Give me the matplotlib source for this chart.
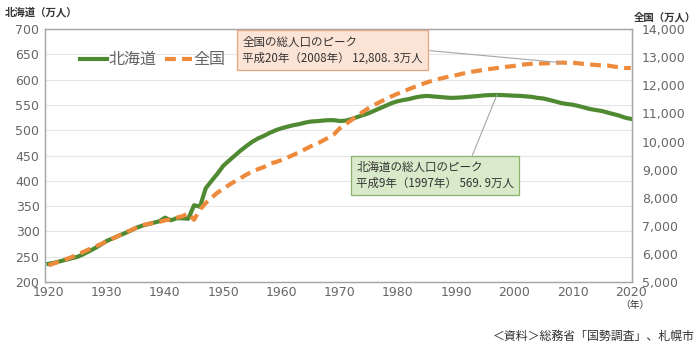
import matplotlib
matplotlib.use("Agg")
import matplotlib.pyplot as plt
from matplotlib.ticker import FuncFormatter

plt.rcParams['font.family'] = ['Noto Sans CJK JP', 'DejaVu Sans']

## DATA (万人)
years = list(range(1920, 2021))

hokkaido = [
    235.9, 238, 241, 244, 247, 249.9, 255, 261, 267, 274,          # 1920-29
    281.2, 286, 291, 296, 301, 306.8, 311, 314, 317, 320,          # 1930-39
    327.2, 322, 326, 326, 325, 351.8, 348.8, 385.3, 400, 414,      # 1940-49
    429.6, 440, 450, 460, 469, 477.3, 484, 489, 495, 500,          # 1950-59
    503.9, 507, 510, 512, 515, 517.2, 518, 519, 520, 520,          # 1960-69
    518.4, 519, 522, 526, 530, 533.8, 539, 544, 549, 554,          # 1970-79
    557.6, 560, 562, 565, 567, 567.9, 567, 566, 565, 564,          # 1980-89
    564.4, 565, 566, 567, 568, 569.2, 569.6, 569.9, 569.6, 569,    # 1990-99
    568.3, 568, 567, 566, 564, 562.8, 560, 557, 554, 552,          # 2000-09
    550.6, 548, 545, 542, 540, 538.2, 535, 532, 529, 525,          # 2010-19
    522.5,                                                         # 2020
]

zenkoku = [
    5596, 5667, 5739, 5812, 5888, 5974, 6074, 6168, 6262, 6349,
    6445, 6545, 6643, 6743, 6831, 6925, 7011, 7063, 7101, 7138,
    7193, 7222, 7288, 7343, 7443, 7215, 7575, 7810, 8000, 8177,
    8320, 8454, 8581, 8698, 8824, 8928, 9017, 9093, 9218, 9264,
    9342, 9429, 9518, 9616, 9718, 9828, 9904, 10020, 10133, 10254,
    10467, 10614, 10760, 10910, 11057, 11194, 11309, 11417, 11519, 11616,
    11706, 11790, 11873, 11954, 12031, 12105, 12166, 12224, 12275, 12321,
    12361, 12410, 12457, 12494, 12526, 12557, 12586, 12616, 12647, 12667,
    12693, 12732, 12749, 12769, 12779, 12777, 12790, 12803, 12808, 12803,
    12806, 12783, 12759, 12741, 12724, 12709, 12704, 12671, 12644, 12617,
    12615,
]

left_ticks = list(range(200, 701, 50))
right_ticks = list(range(5000, 14001, 1000))
x_ticks = list(range(1920, 2021, 10))

green = "#4f8a33"
orange = "#ee8a3c"
grey = "#666666"

## FIGURE
fig = plt.figure(figsize=(7.0, 3.51), dpi=100)
ax = fig.add_axes([0.0643, 0.1966, 0.8386, 0.7204])
ax2 = ax.twinx()

ax.plot(years, hokkaido, color=green, lw=3.0, label="北海道", zorder=3)
ax2.plot(years, zenkoku, color=orange, lw=3.0, ls=(0, (2.6, 1.5)), label="全国", zorder=2)

ax.set_xlim(1919.4, 2020.2)
ax.set_ylim(200, 700)
ax2.set_ylim(5000, 14000)
ax.set_xticks(x_ticks)
ax.set_yticks(left_ticks)
ax2.set_yticks(right_ticks)
ax2.yaxis.set_major_formatter(FuncFormatter(lambda v, p: f"{int(v):,}"))

ax.grid(axis="y", color="#e6e6e6", lw=0.8)
ax.set_axisbelow(True)
for a in (ax, ax2):
    for s in a.spines.values():
        s.set_color("#a6a6a6")
        s.set_linewidth(0.9)
    a.tick_params(length=0, labelsize=9, colors=grey, pad=4)
    for t in a.get_xticklabels() + a.get_yticklabels():
        t.set_fontfamily("DejaVu Sans")
ax.tick_params(axis="x", pad=3)
ax2.tick_params(axis="y", pad=7)

# legend
h1, l1 = ax.get_legend_handles_labels()
h2, l2 = ax2.get_legend_handles_labels()
ax.legend(h1 + h2, l1 + l2, loc="upper left", bbox_to_anchor=(0.035, 0.97), ncol=2,
          frameon=False, fontsize=11.5, handlelength=1.7, handletextpad=0.1,
          columnspacing=0.5, labelcolor=grey)

# axis titles
fig.text(0.007, 0.965, "北海道（万人）", fontsize=7.5, color="#333333", va="center", weight="bold")
fig.text(0.906, 0.952, "全国（万人）", fontsize=7.5, color="#333333", va="center", weight="bold")
fig.text(0.886, 0.131, "（年）", fontsize=7, color="#333333", va="center")
fig.text(0.993, 0.043, "＜資料＞総務省「国勢調査」、札幌市", fontsize=8.6, color="#333333",
         ha="right", va="center")

# peak annotations
ax2.annotate("全国の総人口のピーク\n平成20年（2008年） 12,808. 3万人",
             xy=(2008, 12808), xytext=(0.346, 0.8575), textcoords="figure fraction",
             fontsize=8.3, color="#333333", ha="left", va="center", linespacing=1.3,
             bbox=dict(boxstyle="square,pad=0.45", fc="#fbe3d5", ec="#e3a783", lw=0.9),
             arrowprops=dict(arrowstyle="-", color="#a6a6a6", lw=0.8, relpos=(1, 0.5),
                             shrinkA=0, shrinkB=0), zorder=5)
ax.annotate("北海道の総人口のピーク\n平成9年（1997年） 569. 9万人",
            xy=(1997, 569.9), xytext=(0.509, 0.5), textcoords="figure fraction",
            fontsize=8.3, color="#333333", ha="left", va="center", linespacing=1.3,
            bbox=dict(boxstyle="square,pad=0.45", fc="#d8eac9", ec="#8db26c", lw=0.9),
            arrowprops=dict(arrowstyle="-", color="#a6a6a6", lw=0.8, relpos=(0.72, 1),
                            shrinkA=0, shrinkB=0), zorder=5)

fig.savefig("out.png", dpi=100)
